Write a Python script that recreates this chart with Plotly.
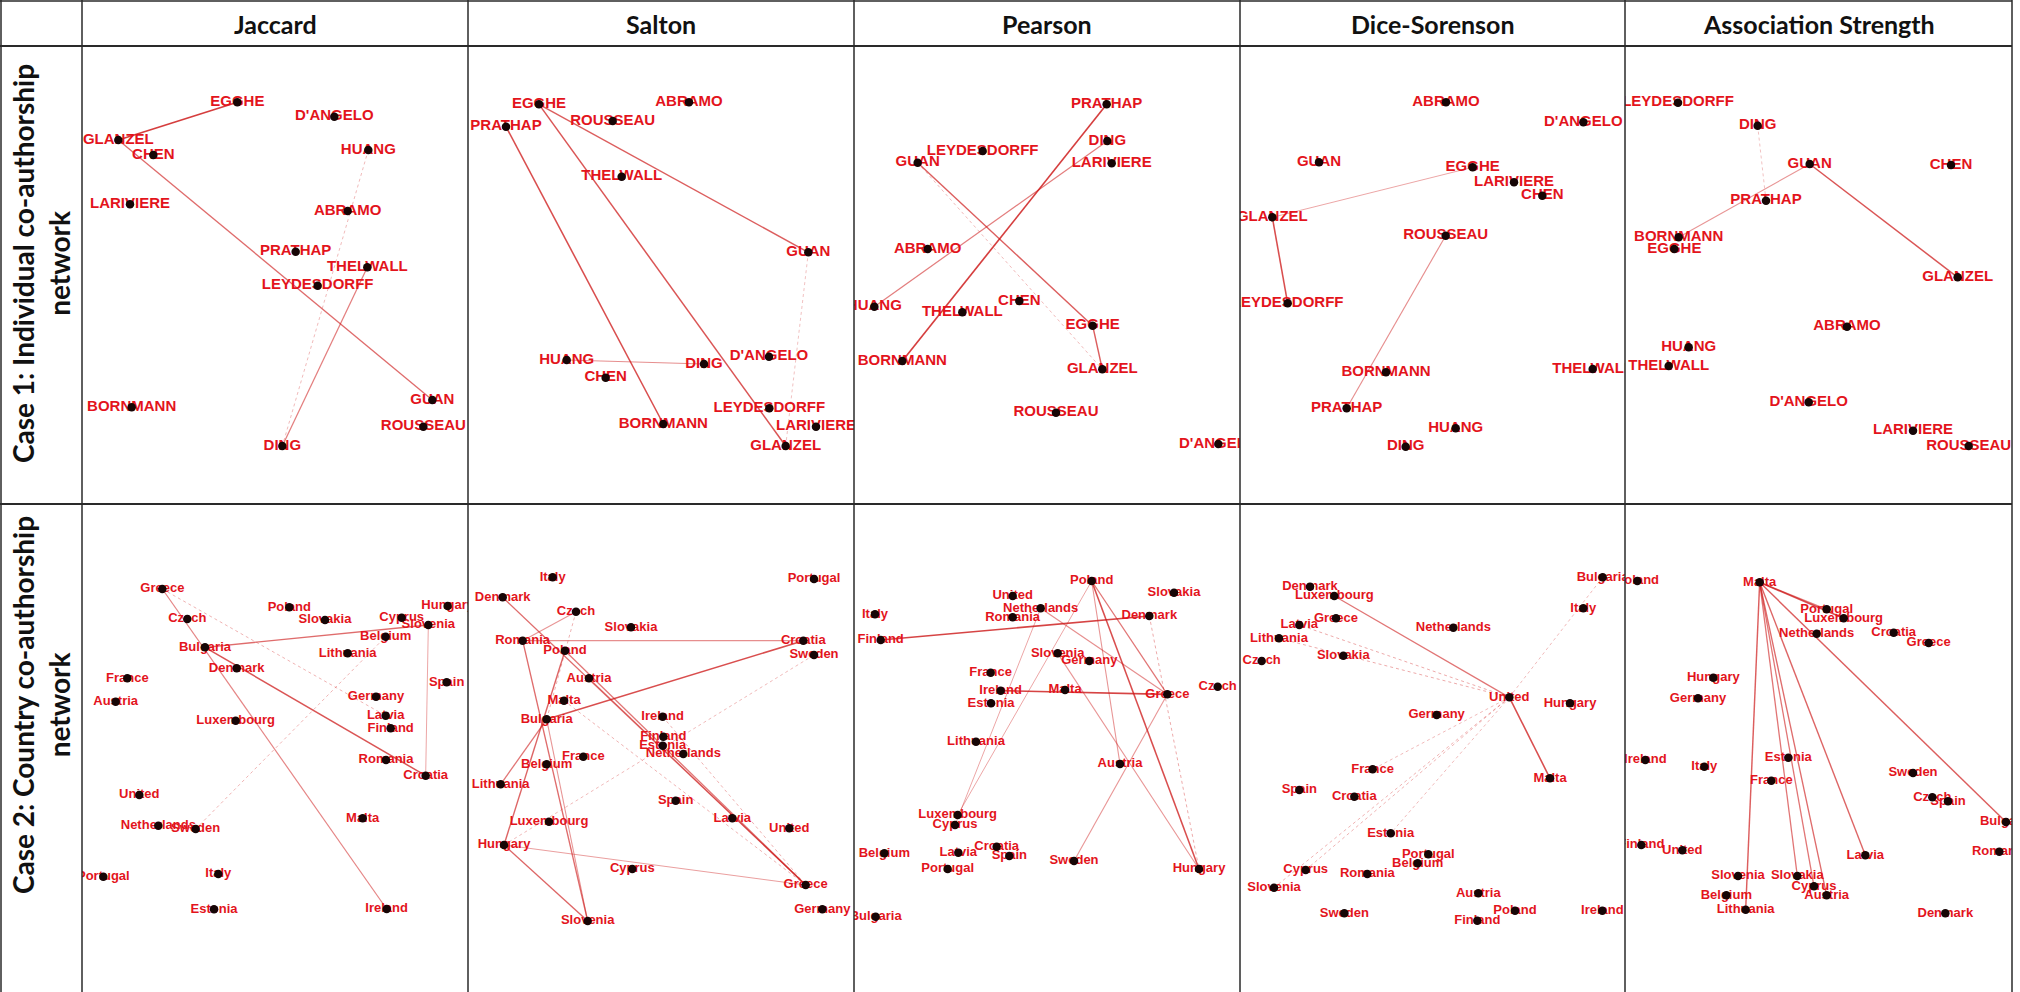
import plotly.graph_objects as go

# ---------------- table structure ----------------
W, H = 2020, 992
COL_EDGES = [82, 468, 854, 1240, 1625, 2012]
ROW_EDGES = [46, 504, 992]
HEADERS = ["Jaccard", "Salton", "Pearson", "Dice-Sorenson", "Association Strength"]
ROW_LABELS = ["Case 1: Individual co-authorship<br>network",
              "Case 2: Country co-authorship<br>network"]
ROW_LABEL_CENTER = [264, 705]

# each cell's layout coordinates: units of 1/3 px from a cell origin
ORIGIN_X = [80, 465, 850, 1235, 1622]
ORIGIN_Y = [45, 490]
UNIT = 3

# ---------------- Case 1: author networks ----------------
jac1_nodes = ["EGGHE", "D'ANGELO", "GLANZEL", "CHEN", "HUANG", "LARIVIERE", "ABRAMO",
              "PRATHAP", "THELWALL", "LEYDESDORFF", "GUAN", "ROUSSEAU", "BORNMANN", "DING"]
jac1_x = [472, 763, 115, 220, 865, 150, 803, 647, 862, 713, 1057, 1030, 155, 607]
jac1_y = [172, 215, 285, 330, 315, 478, 498, 620, 667, 722, 1065, 1145, 1087, 1203]
jac1_edges = [("EGGHE", "GLANZEL", 0.85), ("GLANZEL", "GUAN", 0.55),
              ("HUANG", "DING", 0.12), ("THELWALL", "DING", 0.45)]

sal1_nodes = ["EGGHE", "ABRAMO", "ROUSSEAU", "PRATHAP", "THELWALL", "GUAN", "HUANG",
              "DING", "D'ANGELO", "CHEN", "LEYDESDORFF", "BORNMANN", "LARIVIERE", "GLANZEL"]
sal1_x = [222, 672, 443, 123, 470, 1030, 305, 717, 912, 422, 913, 595, 1053, 962]
sal1_y = [178, 172, 228, 245, 395, 622, 945, 957, 935, 998, 1090, 1137, 1145, 1203]
sal1_edges = [("EGGHE", "GUAN", 0.65), ("EGGHE", "GLANZEL", 0.7),
              ("PRATHAP", "BORNMANN", 0.75), ("HUANG", "DING", 0.35),
              ("GUAN", "GLANZEL", 0.08)]

pea1_nodes = ["PRATHAP", "DING", "LARIVIERE", "LEYDESDORFF", "GUAN", "ABRAMO", "HUANG",
              "THELWALL", "CHEN", "EGGHE", "BORNMANN", "GLANZEL", "ROUSSEAU", "D'ANGELO"]
pea1_x = [770, 772, 785, 398, 203, 233, 73, 337, 508, 728, 157, 757, 618, 1105]
pea1_y = [178, 288, 355, 318, 353, 612, 785, 802, 768, 842, 948, 973, 1103, 1197]
pea1_edges = [("PRATHAP", "BORNMANN", 0.85), ("DING", "HUANG", 0.45),
              ("GUAN", "EGGHE", 0.65), ("GUAN", "GLANZEL", 0.12),
              ("EGGHE", "GLANZEL", 0.65)]

dic1_nodes = ["ABRAMO", "D'ANGELO", "GUAN", "EGGHE", "LARIVIERE", "CHEN", "GLANZEL",
              "ROUSSEAU", "LEYDESDORFF", "BORNMANN", "THELWALL", "PRATHAP", "HUANG", "DING"]
dic1_x = [633, 1045, 252, 713, 837, 922, 112, 632, 158, 453, 1073, 335, 662, 512]
dic1_y = [172, 232, 352, 367, 412, 452, 517, 572, 775, 982, 972, 1090, 1150, 1205]
dic1_edges = [("GLANZEL", "EGGHE", 0.2), ("GLANZEL", "LEYDESDORFF", 0.75),
              ("ROUSSEAU", "PRATHAP", 0.35)]

ass1_nodes = ["LEYDESDORFF", "DING", "GUAN", "CHEN", "PRATHAP", "BORNMANN", "EGGHE",
              "GLANZEL", "ABRAMO", "HUANG", "THELWALL", "D'ANGELO", "LARIVIERE", "ROUSSEAU"]
ass1_x = [168, 407, 563, 987, 432, 170, 157, 1007, 675, 200, 140, 560, 873, 1040]
ass1_y = [173, 242, 357, 360, 467, 577, 612, 697, 845, 907, 963, 1072, 1157, 1203]
ass1_edges = [("DING", "PRATHAP", 0.08), ("GUAN", "BORNMANN", 0.3),
              ("GUAN", "GLANZEL", 0.7)]

# ---------------- Case 2: country networks ----------------
jac2_nodes = ["Greece", "Poland", "Slovakia", "Cyprus", "Hungary", "Slovenia", "Belgium",
              "Czech", "Bulgaria", "Lithuania", "Denmark", "France", "Spain", "Austria",
              "Germany", "Latvia", "Finland", "Luxembourg", "Romania", "Croatia", "United",
              "Malta", "Netherlands", "Sweden", "Portugal", "Italy", "Estonia", "Ireland"]
jac2_x = [247, 628, 735, 965, 1103, 1045, 917, 322, 375, 803, 470, 142, 1100, 107,
          888, 917, 932, 467, 918, 1037, 178, 848, 235, 347, 70, 415, 402, 920]
jac2_y = [297, 352, 390, 383, 348, 405, 440, 387, 472, 490, 535, 565, 577, 635,
          620, 677, 715, 692, 810, 857, 915, 985, 1007, 1017, 1160, 1152, 1258, 1257]
jac2_edges = [("Greece", "Ireland", 0.4), ("Greece", "Latvia", 0.15),
              ("Bulgaria", "Slovenia", 0.55), ("Bulgaria", "Croatia", 0.7),
              ("Slovenia", "Croatia", 0.2), ("Sweden", "Belgium", 0.15)]

sal2_nodes = ["Italy", "Portugal", "Denmark", "Czech", "Slovakia", "Romania", "Croatia",
              "Poland", "Sweden", "Austria", "Malta", "Bulgaria", "Ireland", "Finland",
              "Estonia", "Netherlands", "France", "Belgium", "Lithuania", "Spain", "Latvia",
              "United", "Luxembourg", "Hungary", "Cyprus", "Greece", "Germany", "Slovenia"]
sal2_x = [263, 1047, 113, 333, 498, 173, 1015, 300, 1047, 372, 297, 245, 593, 595,
          593, 655, 355, 245, 107, 632, 802, 973, 252, 117, 502, 1022, 1072, 368]
sal2_y = [262, 267, 322, 365, 412, 452, 452, 482, 495, 565, 632, 688, 680, 740,
          767, 792, 800, 823, 883, 932, 985, 1015, 995, 1065, 1137, 1185, 1258, 1293]
sal2_edges = [("Denmark", "Greece", 0.55), ("Poland", "Greece", 0.5),
              ("Romania", "Croatia", 0.35), ("Romania", "Czech", 0.3),
              ("Czech", "Bulgaria", 0.15), ("Bulgaria", "Croatia", 0.75),
              ("Bulgaria", "Lithuania", 0.5), ("Poland", "Hungary", 0.6),
              ("Romania", "Slovenia", 0.55), ("Bulgaria", "Slovenia", 0.3),
              ("Hungary", "Slovenia", 0.6), ("Hungary", "Greece", 0.25),
              ("Hungary", "Sweden", 0.12), ("Malta", "Greece", 0.15),
              ("Ireland", "Greece", 0.15), ("Austria", "Greece", 0.3)]

pea2_nodes = ["Poland", "Slovakia", "United", "Netherlands", "Italy", "Romania", "Denmark",
              "Finland", "Slovenia", "Germany", "France", "Ireland", "Malta", "Greece",
              "Czech", "Estonia", "Lithuania", "Austria", "Luxembourg", "Cyprus", "Belgium",
              "Latvia", "Croatia", "Spain", "Portugal", "Sweden", "Hungary", "Bulgaria"]
pea2_x = [725, 972, 488, 572, 75, 488, 898, 92, 623, 718, 422, 452, 645, 952,
          1103, 423, 378, 810, 323, 315, 103, 325, 440, 478, 293, 672, 1047, 77]
pea2_y = [273, 308, 318, 355, 373, 382, 378, 450, 490, 513, 548, 602, 600, 613,
          590, 640, 755, 822, 975, 1005, 1090, 1088, 1070, 1098, 1137, 1113, 1137, 1280]
pea2_edges = [("Finland", "Denmark", 0.8), ("Ireland", "Greece", 0.8),
              ("Poland", "Hungary", 0.75), ("Poland", "Greece", 0.5),
              ("Poland", "Austria", 0.3), ("Poland", "Luxembourg", 0.2),
              ("Netherlands", "Greece", 0.35), ("Netherlands", "Cyprus", 0.2),
              ("Slovenia", "Hungary", 0.3), ("Denmark", "Hungary", 0.18),
              ("Greece", "Sweden", 0.3)]

dic2_nodes = ["Denmark", "Luxembourg", "Bulgaria", "Italy", "Greece", "Latvia", "Lithuania",
              "Netherlands", "Slovakia", "Czech", "United", "Hungary", "Germany", "France",
              "Malta", "Spain", "Croatia", "Estonia", "Portugal", "Belgium", "Cyprus",
              "Romania", "Slovenia", "Sweden", "Austria", "Poland", "Finland", "Ireland"]
dic2_x = [225, 298, 1103, 1045, 303, 193, 132, 655, 325, 80, 823, 1005, 605, 413,
          945, 193, 358, 467, 580, 548, 212, 397, 117, 328, 730, 840, 727, 1102]
dic2_y = [290, 318, 262, 355, 385, 405, 445, 413, 497, 513, 622, 640, 675, 838,
          865, 900, 920, 1030, 1093, 1120, 1140, 1152, 1193, 1270, 1210, 1262, 1292, 1262]
dic2_edges = [("United", "Luxembourg", 0.5), ("United", "Latvia", 0.18),
              ("United", "Lithuania", 0.18), ("United", "Malta", 0.75),
              ("United", "Bulgaria", 0.12), ("United", "France", 0.12),
              ("United", "Cyprus", 0.15), ("United", "Slovenia", 0.15),
              ("United", "Estonia", 0.12)]

ass2_nodes = ["Poland", "Malta", "Portugal", "Luxembourg", "Croatia", "Greece", "Netherlands",
              "Hungary", "Germany", "Ireland", "Italy", "Estonia", "France", "Sweden",
              "Czech", "Spain", "Bulgaria", "Romania", "Finland", "United", "Slovenia",
              "Slovakia", "Cyprus", "Latvia", "Austria", "Belgium", "Lithuania", "Denmark"]
ass2_x = [46, 413, 614, 665, 815, 920, 584, 274, 228, 70, 247, 499, 448, 873,
          931, 978, 1152, 1132, 58, 181, 348, 526, 576, 730, 614, 313, 371, 970]
ass2_y = [273, 277, 358, 385, 428, 459, 431, 563, 625, 810, 830, 803, 872, 849,
          922, 934, 996, 1085, 1065, 1081, 1158, 1158, 1189, 1096, 1216, 1216, 1259, 1270]
ass2_edges = [("Malta", "Luxembourg", 0.75), ("Malta", "Portugal", 0.45),
              ("Malta", "Bulgaria", 0.65), ("Malta", "Latvia", 0.6),
              ("Malta", "Austria", 0.55), ("Malta", "Cyprus", 0.5),
              ("Malta", "Slovakia", 0.5), ("Malta", "Lithuania", 0.65)]

CELLS = [
    (0, 0, jac1_nodes, jac1_x, jac1_y, jac1_edges),
    (0, 1, sal1_nodes, sal1_x, sal1_y, sal1_edges),
    (0, 2, pea1_nodes, pea1_x, pea1_y, pea1_edges),
    (0, 3, dic1_nodes, dic1_x, dic1_y, dic1_edges),
    (0, 4, ass1_nodes, ass1_x, ass1_y, ass1_edges),
    (1, 0, jac2_nodes, jac2_x, jac2_y, jac2_edges),
    (1, 1, sal2_nodes, sal2_x, sal2_y, sal2_edges),
    (1, 2, pea2_nodes, pea2_x, pea2_y, pea2_edges),
    (1, 3, dic2_nodes, dic2_x, dic2_y, dic2_edges),
    (1, 4, ass2_nodes, ass2_x, ass2_y, ass2_edges),
]

LABEL_RED = "#e3141c"
LABEL_SIZE = [15, 13]

fig = go.Figure()
layout = dict(width=W, height=H, autosize=False, margin=dict(l=0, r=0, t=0, b=0, pad=0),
              paper_bgcolor="white", plot_bgcolor="white", showlegend=False)

for i, (r, c, nodes, xs, ys, edges) in enumerate(CELLS, start=1):
    xa = "x" if i == 1 else f"x{i}"
    ya = "y" if i == 1 else f"y{i}"
    pos = {n: (x, y) for n, x, y in zip(nodes, xs, ys)}
    for a, b, w in edges:
        alpha = 0.25 + 0.7 * w
        fig.add_trace(go.Scatter(
            x=[pos[a][0], pos[b][0]], y=[pos[a][1], pos[b][1]], mode="lines",
            line=dict(color=f"rgba(205,25,25,{alpha:.2f})", width=0.8 + 1.0 * w,
                      dash="dot" if w < 0.2 else "solid"),
            hoverinfo="skip", xaxis=xa, yaxis=ya))
    fig.add_trace(go.Scatter(
        x=xs, y=ys, mode="text", text=nodes, textposition="middle center",
        textfont=dict(family="Liberation Sans, Arial", size=LABEL_SIZE[r],
                      color=LABEL_RED, weight="bold"),
        hoverinfo="skip", xaxis=xa, yaxis=ya))
    fig.add_trace(go.Scatter(
        x=xs, y=ys, mode="markers", marker=dict(size=8.5, color="#160606"),
        hoverinfo="skip", xaxis=xa, yaxis=ya))
    x0, x1 = COL_EDGES[c], COL_EDGES[c + 1]
    y0, y1 = ROW_EDGES[r], ROW_EDGES[r + 1]
    ox, oy = ORIGIN_X[c], ORIGIN_Y[r]
    key_x = "xaxis" if i == 1 else f"xaxis{i}"
    key_y = "yaxis" if i == 1 else f"yaxis{i}"
    layout[key_x] = dict(domain=[x0 / W, x1 / W], range=[(x0 - ox) * UNIT, (x1 - ox) * UNIT],
                         visible=False, fixedrange=True, anchor=ya)
    layout[key_y] = dict(domain=[1 - y1 / H, 1 - y0 / H], range=[(y1 - oy) * UNIT, (y0 - oy) * UNIT],
                         visible=False, fixedrange=True, anchor=xa)

fig.update_layout(**layout)

# table grid lines
def px_line(x0, y0, x1, y1, width=1.5):
    fig.add_shape(type="line", xref="paper", yref="paper",
                  x0=x0 / W, x1=x1 / W, y0=1 - y0 / H, y1=1 - y1 / H,
                  line=dict(color="#2a2a2a", width=width))

px_line(0, 1, COL_EDGES[-1], 1)
px_line(0, ROW_EDGES[0], COL_EDGES[-1], ROW_EDGES[0], 2)
px_line(0, ROW_EDGES[1], COL_EDGES[-1], ROW_EDGES[1], 2)
px_line(1, 0, 1, H)
for xe in COL_EDGES:
    px_line(xe, 0, xe, H)

# headers
for c, name in enumerate(HEADERS):
    fig.add_annotation(xref="paper", yref="paper",
                       x=(COL_EDGES[c] + COL_EDGES[c + 1]) / 2 / W, y=1 - 24 / H,
                       xanchor="center", yanchor="middle",
                       text=f"<b>{name}</b>", showarrow=False,
                       font=dict(family="Lato, Open Sans", size=25, color="#111"))
for r, name in enumerate(ROW_LABELS):
    fig.add_annotation(xref="paper", yref="paper", x=41 / W, y=1 - ROW_LABEL_CENTER[r] / H,
                       xanchor="center", yanchor="middle",
                       text=f"<b>{name}</b>", showarrow=False, textangle=-90,
                       font=dict(family="Lato, Open Sans", size=28, color="#111"))

fig.write_html("out.html", config={"displayModeBar": False},
               post_script="document.body.style.margin='0px';document.body.style.overflow='hidden';")
